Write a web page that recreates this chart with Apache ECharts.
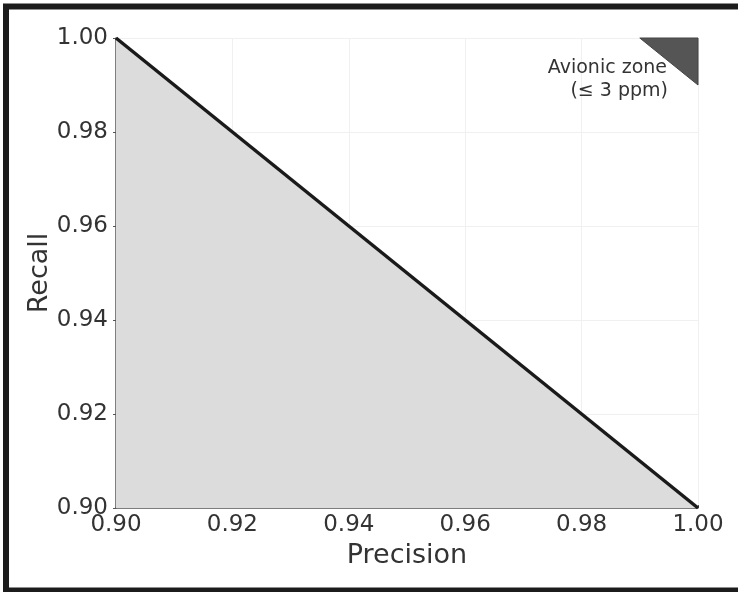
<!DOCTYPE html>
<html>
<head>
<meta charset="utf-8">
<script src="https://cdn.jsdelivr.net/npm/echarts@6/dist/echarts.min.js"></script>
<style>
  html, body { margin: 0; padding: 0; background: #fff; }
  #chart { width: 738px; height: 592px; }
</style>
</head>
<body>
<div id="chart"></div>
<script>
// frontier: precision vs recall
var precision = [0.90, 1.00];
var recall = [1.00, 0.90];
// avionic zone triangle (precision, recall)
var zonePrecision = [0.99, 1.00, 1.00];
var zoneRecall = [1.00, 1.00, 0.99];
var tickLabels = ['0.90', '0.92', '0.94', '0.96', '0.98', '1.00'];

var chart = echarts.init(document.getElementById('chart'));
var font = 'DejaVu Sans';

var frontier = precision.map(function (p, i) { return [p, recall[i]]; });
var zone = zonePrecision.map(function (p, i) { return [p, zoneRecall[i]]; });

function axisCommon(name) {
    return {
        type: 'value',
        min: 0.90,
        max: 1.00,
        interval: 0.02,
        name: name,
        nameLocation: 'middle',
        nameMoveOverlap: false,
        nameTextStyle: { fontFamily: font, fontSize: 27, color: '#333' },
        axisLine: { show: true, lineStyle: { color: '#555', width: 1.5 } },
        axisTick: { show: true, length: 3, lineStyle: { color: '#555' } },
        axisLabel: {
            fontFamily: font, fontSize: 23, color: '#333',
            formatter: function (v) { return tickLabels[Math.round((v - 0.90) / 0.02)]; }
        },
        splitLine: { show: true, lineStyle: { color: '#f0f0f0', width: 1 } }
    };
}

var xAxis = axisCommon('Precision');
xAxis.nameGap = 34;
xAxis.axisLabel.margin = 6;
xAxis.axisTick.inside = true;

var yAxis = axisCommon('Recall');
yAxis.nameGap = 63;
yAxis.axisLabel.margin = 8;

var option = {
    animation: false,
    backgroundColor: '#fff',
    grid: { left: 116, right: 40, top: 38, bottom: 84 },
    xAxis: xAxis,
    yAxis: yAxis,
    graphic: [
        {
            type: 'rect',
            shape: { x: 6, y: 6.5, width: 800, height: 584 },
            style: { fill: 'none', stroke: '#1c1c1c', lineWidth: 6 },
            z: 100
        },
        {
            type: 'text',
            right: 71, top: 59, z: 10,
            style: { text: 'Avionic zone', font: '19px "DejaVu Sans"', fill: '#333', textAlign: 'right' }
        },
        {
            type: 'text',
            right: 70, top: 82, z: 10,
            style: { text: '(\u2264 3 ppm)', font: '19px "DejaVu Sans"', fill: '#333', textAlign: 'right' }
        }
    ],
    series: [
        {
            type: 'line',
            data: frontier,
            symbol: 'none',
            lineStyle: { color: '#1a1a1a', width: 3.5 },
            areaStyle: { color: '#dcdcdc', opacity: 1, origin: 'start' },
            z: 3
        },
        {
            type: 'custom',
            data: zone,
            renderItem: function (params, api) {
                if (params.dataIndex !== 0) return;
                var pts = zone.map(function (d) { return api.coord(d); });
                return {
                    type: 'polygon',
                    shape: { points: pts },
                    style: { fill: '#555555', stroke: '#444', lineWidth: 1 }
                };
            },
            z: 4
        }
    ]
};

option && chart.setOption(option);
</script>
</body>
</html>
